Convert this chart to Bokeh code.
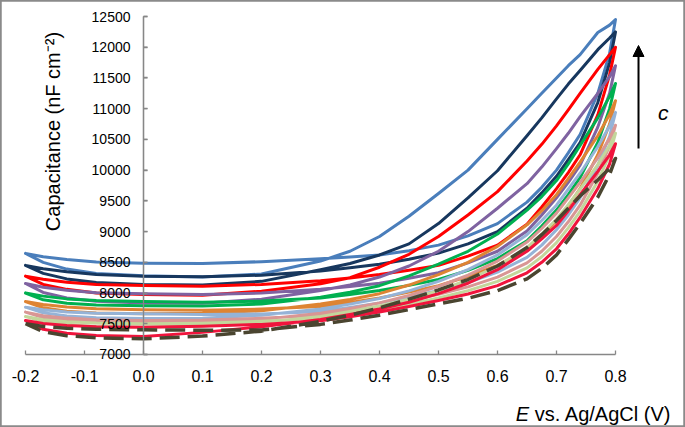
import math
from bokeh.plotting import figure
from bokeh.models import Range1d, FixedTicker, PrintfTickFormatter, Label, Arrow, NormalHead
from bokeh.embed import file_html
from bokeh.resources import INLINE

# Potential grid (V vs Ag/AgCl)
E_GRID = [-0.2, -0.17, -0.13, -0.08, 0.0, 0.1, 0.2, 0.3, 0.35, 0.4, 0.45, 0.5, 0.55, 0.6, 0.65, 0.675, 0.7, 0.72, 0.74, 0.77, 0.79, 0.8]

# Capacitance (nF cm^-2): forward (anodic) and reverse (cathodic) branch of each loop
blue_fwd = [8645, 8590, 8545, 8505, 8485, 8480, 8510, 8560, 8585, 8620, 8690, 8780, 8930, 9130, 9480, 9720, 10000, 10280, 10580, 11250, 11900, 12450]
blue_rev = [8645, 8500, 8390, 8320, 8280, 8260, 8310, 8520, 8680, 8920, 9250, 9620, 10000, 10500, 11000, 11250, 11500, 11700, 11880, 12240, 12360, 12450]
navy_fwd = [8450, 8395, 8345, 8300, 8275, 8265, 8290, 8360, 8410, 8470, 8550, 8650, 8800, 9000, 9380, 9630, 9900, 10170, 10450, 11100, 11750, 12250]
navy_rev = [8450, 8320, 8230, 8170, 8140, 8130, 8190, 8380, 8480, 8620, 8800, 9130, 9550, 9990, 10560, 10850, 11160, 11400, 11620, 11960, 12150, 12250]
red_fwd = [8275, 8225, 8175, 8140, 8122, 8110, 8140, 8200, 8245, 8300, 8370, 8450, 8600, 8780, 9120, 9400, 9700, 9960, 10250, 10900, 11550, 12000]
red_rev = [8275, 8140, 8060, 8000, 7975, 7965, 8030, 8150, 8250, 8420, 8630, 8920, 9270, 9650, 10150, 10420, 10720, 10980, 11250, 11640, 11880, 12000]
purple_fwd = [8155, 8095, 8045, 8005, 7987, 7975, 8000, 8060, 8105, 8160, 8240, 8330, 8490, 8680, 9010, 9270, 9550, 9800, 10080, 10700, 11250, 11700]
purple_rev = [8155, 8010, 7920, 7865, 7840, 7835, 7900, 8040, 8130, 8260, 8440, 8680, 9000, 9380, 9780, 10050, 10350, 10600, 10870, 11250, 11520, 11700]
green_fwd = [8000, 7950, 7905, 7880, 7862, 7850, 7870, 7920, 7975, 8040, 8125, 8220, 8370, 8560, 8850, 9090, 9350, 9600, 9880, 10450, 11000, 11410]
green_rev = [8000, 7890, 7835, 7805, 7795, 7790, 7820, 7930, 8015, 8120, 8280, 8470, 8680, 8960, 9350, 9570, 9830, 10100, 10400, 10850, 11200, 11410]
orange_fwd = [7862, 7812, 7772, 7745, 7727, 7720, 7740, 7780, 7845, 7920, 8015, 8120, 8270, 8450, 8710, 8930, 9180, 9420, 9700, 10250, 10750, 11130]
orange_rev = [7862, 7760, 7705, 7677, 7665, 7670, 7710, 7820, 7895, 7990, 8130, 8300, 8500, 8760, 9110, 9340, 9600, 9860, 10130, 10560, 10910, 11130]
ltblue_fwd = [7770, 7727, 7692, 7672, 7662, 7650, 7660, 7700, 7765, 7840, 7935, 8040, 8170, 8340, 8580, 8780, 9030, 9270, 9550, 10080, 10550, 10940]
ltblue_rev = [7770, 7680, 7625, 7597, 7585, 7590, 7640, 7740, 7820, 7910, 8035, 8190, 8380, 8620, 8950, 9180, 9430, 9690, 9950, 10380, 10720, 10940]
pink_fwd = [7690, 7632, 7592, 7566, 7553, 7560, 7590, 7640, 7705, 7780, 7875, 7980, 8100, 8260, 8490, 8680, 8920, 9160, 9430, 9950, 10400, 10730]
pink_rev = [7690, 7600, 7545, 7517, 7505, 7515, 7570, 7670, 7750, 7840, 7960, 8110, 8290, 8520, 8830, 9050, 9300, 9550, 9800, 10200, 10520, 10730]
ltgreen_fwd = [7618, 7567, 7532, 7511, 7500, 7510, 7540, 7590, 7655, 7730, 7820, 7920, 8040, 8190, 8410, 8590, 8820, 9060, 9330, 9820, 10250, 10600]
ltgreen_rev = [7618, 7540, 7485, 7457, 7445, 7465, 7520, 7620, 7700, 7790, 7900, 8040, 8215, 8440, 8740, 8960, 9200, 9440, 9690, 10090, 10400, 10600]
crimson_fwd = [7553, 7503, 7472, 7453, 7444, 7460, 7490, 7550, 7615, 7690, 7780, 7880, 7985, 8120, 8330, 8500, 8720, 8960, 9230, 9700, 10100, 10430]
crimson_rev = [7553, 7410, 7345, 7308, 7293, 7360, 7450, 7570, 7650, 7740, 7850, 7990, 8160, 8380, 8680, 8880, 9100, 9340, 9600, 9980, 10250, 10430]
dashed_fwd = [7500, 7457, 7427, 7410, 7402, 7395, 7400, 7490, 7560, 7640, 7730, 7825, 7915, 8040, 8230, 8400, 8620, 8870, 9130, 9560, 9930, 10190]
dashed_rev = [7500, 7370, 7305, 7272, 7255, 7300, 7380, 7540, 7640, 7760, 7900, 8050, 8220, 8440, 8740, 8950, 9180, 9380, 9580, 9840, 10030, 10190]

X_TICKS = [-0.2, -0.1, 0.0, 0.1, 0.2, 0.3, 0.4, 0.5, 0.6, 0.7, 0.8]
Y_TICKS = [7000, 7500, 8000, 8500, 9000, 9500, 10000, 10500, 11000, 11500, 12000, 12500]

series = [
    (blue_fwd, blue_rev, "#4A7EBB", "solid"),
    (navy_fwd, navy_rev, "#17375E", "solid"),
    (red_fwd, red_rev, "#FF0000", "solid"),
    (purple_fwd, purple_rev, "#7F63A1", "solid"),
    (green_fwd, green_rev, "#00B050", "solid"),
    (orange_fwd, orange_rev, "#DE8433", "solid"),
    (ltblue_fwd, ltblue_rev, "#95B3D7", "solid"),
    (pink_fwd, pink_rev, "#D99694", "solid"),
    (ltgreen_fwd, ltgreen_rev, "#C3D69B", "solid"),
    (crimson_fwd, crimson_rev, "#F0143C", "solid"),
    (dashed_fwd, dashed_rev, "#4A4530", "dashed"),
]

FONT = "Liberation Sans"
AXIS_GRAY = "#878787"

# frame covers the whole canvas; axes are pinned at E = 0 and C = 7000
p = figure(width=685, height=427, output_backend="svg", toolbar_location=None,
           x_range=Range1d(-0.24237, 0.91864), y_range=Range1d(5812.1, 12760.4),
           min_border_left=0, min_border_right=0, min_border_top=0, min_border_bottom=0)
p.background_fill_color = "white"
p.border_fill_color = "white"
p.outline_line_color = "#8a8a8a"
p.outline_line_width = 2.5
p.xgrid.visible = False
p.ygrid.visible = False

# vertical axis rule at E = 0 with inward ticks (drawn explicitly so it is always visible)
tick_len = 4 / 590.0
p.segment(x0=[0.0], y0=[Y_TICKS[0]], x1=[0.0], y1=[Y_TICKS[-1]], line_color=AXIS_GRAY, line_width=1.3)
p.segment(x0=[0.0] * len(Y_TICKS), y0=Y_TICKS, x1=[tick_len] * len(Y_TICKS), y1=Y_TICKS,
          line_color=AXIS_GRAY, line_width=1.3)

for fwd, rev, color, kind in series:
    xs = E_GRID + E_GRID[::-1]
    ys = fwd + rev[::-1]
    if kind == "dashed":
        p.line(xs, ys, line_color=color, line_width=3.5, line_dash="20 8", line_join="round")
    else:
        p.line(xs, ys, line_color=color, line_width=3, line_join="round", line_cap="round")

for ax in (p.xaxis[0], p.yaxis[0]):
    ax.axis_line_color = AXIS_GRAY
    ax.axis_line_width = 1.3
    ax.major_tick_line_color = AXIS_GRAY
    ax.major_tick_line_width = 1.3
    ax.major_tick_in = 4
    ax.major_tick_out = 0
    ax.minor_tick_line_color = None
    ax.major_label_text_font = FONT
    ax.major_label_text_color = "black"
    ax.axis_label = None

p.xaxis.ticker = FixedTicker(ticks=X_TICKS)
p.xaxis.formatter = PrintfTickFormatter(format="%.1f")
p.xaxis.bounds = (-0.2, 0.8)
p.xaxis.fixed_location = 7000
p.xaxis.major_label_text_font_size = "16px"
p.xaxis.major_label_standoff = 16

p.yaxis.ticker = FixedTicker(ticks=Y_TICKS)
p.yaxis.formatter = PrintfTickFormatter(format="%d")
p.yaxis.bounds = (7000, 12500)
p.yaxis.fixed_location = 0
p.yaxis.major_label_text_font_size = "14px"
p.yaxis.major_label_standoff = 13

# axis titles
p.add_layout(Label(x=-0.1542, y=10628, text="Capacitance (nF cm\u207b\u00b2)", angle=math.pi / 2,
                   text_align="center", text_baseline="alphabetic",
                   text_font=FONT, text_font_size="20px", text_color="black"))
p.add_layout(Label(x=0.8949, y=6024, text="vs. Ag/AgCl (V)", text_align="right",
                   text_baseline="alphabetic", text_font=FONT, text_font_size="20px", text_color="black"))
p.add_layout(Label(x=0.6536, y=6024, text="E", text_align="right", text_font_style="italic",
                   text_baseline="alphabetic", text_font=FONT, text_font_size="20px", text_color="black"))

# trend arrow and label
p.add_layout(Arrow(x_start=0.839, y_start=10352, x_end=0.839, y_end=12028, line_width=2, line_color="black",
                   end=NormalHead(size=11, fill_color="black", line_color="black", line_width=1)))
p.add_layout(Label(x=0.881, y=10937, text="c", text_align="center", text_baseline="alphabetic",
                   text_font=FONT, text_font_style="italic", text_font_size="21px", text_color="black"))

open("out.html", "w").write(file_html(p, INLINE))
